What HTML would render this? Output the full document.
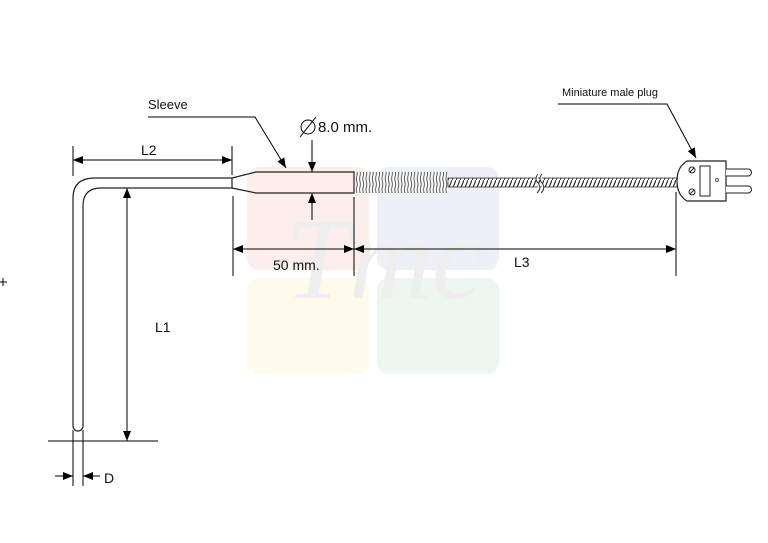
<!DOCTYPE html>
<html><head><meta charset="utf-8"><style>
body{margin:0;background:#fff}
svg{display:block}
text{font-family:"Liberation Sans",Arial,sans-serif;fill:#111}
</style></head><body>
<svg width="768" height="543" viewBox="0 0 768 543" xmlns="http://www.w3.org/2000/svg">
<defs>
<marker id="a" viewBox="0 0 10 10" refX="10" refY="5" markerWidth="10" markerHeight="10" markerUnits="userSpaceOnUse" orient="auto-start-reverse"><path d="M0,1 L10,5 L0,9 z" fill="#000"/></marker>
<pattern id="hat" width="4" height="10" patternUnits="userSpaceOnUse"><rect width="4" height="10" fill="#fff"/><line x1="0" y1="10" x2="4" y2="0" stroke="#333" stroke-width="1.2"/></pattern>
<pattern id="spr" width="3.2" height="22" patternUnits="userSpaceOnUse"><rect width="3.2" height="22" fill="#fff"/><path d="M1.6,0 C0,5 3.2,6 1.6,11 C0,16 3.2,17 1.6,22" stroke="#555" stroke-width="1" fill="none"/></pattern>
</defs>
<rect x="247" y="167" width="122" height="103" rx="12" fill="#fdeeee"/>
<rect x="377" y="167" width="122" height="103" rx="12" fill="#eef0f7"/>
<rect x="247" y="278" width="122" height="96" rx="12" fill="#fefbec"/>
<rect x="377" y="278" width="122" height="96" rx="12" fill="#eef6f0"/>
<text x="285" y="298" font-size="115" font-style="italic" style="font-family:'Liberation Serif',serif;fill:#eeeeee">Tmc</text>
<path d="M73,426 L73,198 Q73,178 95,178 L232,178 L232,188 L101,188 Q83,188 83,206 L83,426 A5,5 0 0 1 73,426" fill="#fff" stroke="#222" stroke-width="1.2"/>
<path d="M232,178 L256,172 L354,172 L354,193 L256,193 L232,188" fill="none" stroke="#222" stroke-width="1.2"/>
<rect x="355" y="172" width="93" height="21" fill="url(#spr)"/>
<rect x="448" y="178" width="229" height="9" fill="url(#hat)" stroke="#333" stroke-width="0.8"/>
<path d="M538,174 q-4,5 0,9 q4,5 -1,10 M542,174 q-4,5 0,9 q4,5 -1,10" stroke="#333" fill="#fff" stroke-width="1"/>
<path d="M687,161 L726,161 L726,201 L687,201 Q677,195 677,181 Q677,167 687,161 z" fill="#fff" stroke="#222" stroke-width="1.2"/>
<rect x="700" y="166" width="10" height="30" fill="#fff" stroke="#222"/>
<circle cx="692" cy="170" r="3" fill="none" stroke="#222"/><line x1="690" y1="172" x2="694" y2="168" stroke="#222"/>
<circle cx="692" cy="192" r="3" fill="none" stroke="#222"/><line x1="690" y1="194" x2="694" y2="190" stroke="#222"/>
<circle cx="717" cy="180" r="1.5" fill="none" stroke="#555"/>
<path d="M726,169 L748,169 A3.5,3.5 0 0 1 748,176 L726,176 M726,186 L748,186 A3.5,3.5 0 0 1 748,193 L726,193" fill="#fff" stroke="#222"/>
<g stroke="#000" stroke-width="1" fill="none">
<line x1="73" y1="146" x2="73" y2="176"/>
<line x1="232" y1="146" x2="232" y2="175"/>
<line x1="233" y1="196" x2="233" y2="276"/>
<line x1="354" y1="197" x2="354" y2="276"/>
<line x1="676" y1="192" x2="676" y2="276"/>
<line x1="73" y1="160" x2="232" y2="160" marker-start="url(#a)" marker-end="url(#a)"/>
<line x1="127" y1="188" x2="127" y2="441" marker-start="url(#a)" marker-end="url(#a)"/>
<line x1="48" y1="441" x2="158" y2="441"/>
<line x1="73" y1="430" x2="73" y2="486"/>
<line x1="83" y1="430" x2="83" y2="486"/>
<line x1="55" y1="476" x2="73" y2="476" marker-end="url(#a)"/>
<line x1="100" y1="476" x2="83" y2="476" marker-end="url(#a)"/>
<line x1="233" y1="249" x2="354" y2="249" marker-start="url(#a)" marker-end="url(#a)"/>
<line x1="354" y1="249" x2="676" y2="249" marker-start="url(#a)" marker-end="url(#a)"/>
<line x1="312" y1="140" x2="312" y2="172" marker-end="url(#a)"/>
<line x1="312" y1="220" x2="312" y2="193" marker-end="url(#a)"/>
<polyline points="148,117 255,117 286,168" marker-end="url(#a)"/>
<polyline points="558,104 667,104 696,158" marker-end="url(#a)"/>
<circle cx="308" cy="127" r="7"/><line x1="300" y1="137" x2="316" y2="117"/>
<path d="M0,282 h7 M3,278 v8"/>
</g>
<text x="148" y="109" font-size="13">Sleeve</text>
<text x="318" y="132" font-size="15">8.0 mm.</text>
<text x="141" y="155" font-size="14">L2</text>
<text x="155" y="332" font-size="14">L1</text>
<text x="104" y="483" font-size="14">D</text>
<text x="273" y="270" font-size="14">50 mm.</text>
<text x="514" y="267" font-size="14">L3</text>
<text x="562" y="96" font-size="11">Miniature male plug</text>
</svg>
</body></html>
